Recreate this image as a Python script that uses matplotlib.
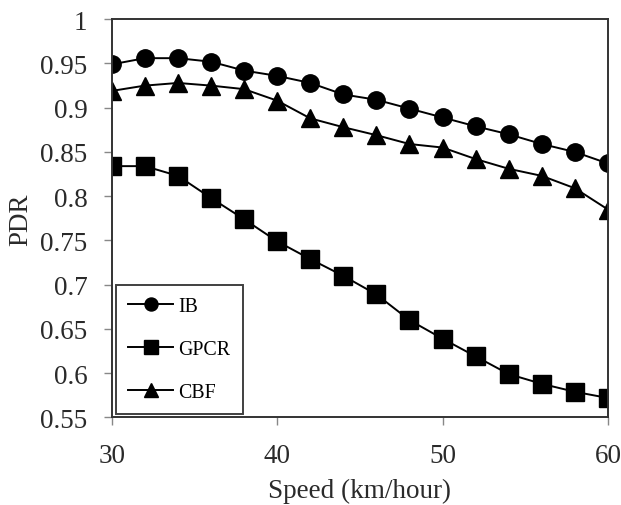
import matplotlib
matplotlib.use("Agg")
import matplotlib.pyplot as plt
from matplotlib.ticker import FixedLocator, FuncFormatter

speed = [30, 32, 34, 36, 38, 40, 42, 44, 46, 48, 50, 52, 54, 56, 58, 60]
ib = [0.949, 0.956, 0.956, 0.952, 0.942, 0.936, 0.928, 0.915, 0.909, 0.899,
      0.889, 0.879, 0.870, 0.859, 0.850, 0.837]
gpcr = [0.834, 0.834, 0.823, 0.798, 0.774, 0.749, 0.729, 0.710, 0.689, 0.660,
        0.639, 0.619, 0.599, 0.588, 0.579, 0.572]
cbf = [0.919, 0.925, 0.928, 0.925, 0.921, 0.908, 0.888, 0.878, 0.869, 0.859,
       0.855, 0.842, 0.831, 0.823, 0.809, 0.785]
x_ticks = [30, 40, 50, 60]
y_ticks = [0.55, 0.6, 0.65, 0.7, 0.75, 0.8, 0.85, 0.9, 0.95, 1.0]

plt.rcParams['font.family'] = ['Liberation Serif', 'DejaVu Serif']

fig = plt.figure(figsize=(6.21, 5.06), dpi=100)
ax = fig.add_axes([0.180, 0.173, 0.799, 0.787])

common = dict(color='black', linewidth=1.4, markersize=12.5)
ax.plot(speed, ib, marker='o', label='IB', **common)
ax.plot(speed, gpcr, marker='s', label='GPCR', **common)
ax.plot(speed, cbf, marker='^', label='CBF', **common)

ax.set_xlim(30, 60)
ax.set_ylim(0.55, 1.0)
ax.xaxis.set_major_locator(FixedLocator(x_ticks))
ax.yaxis.set_major_locator(FixedLocator(y_ticks))
ax.yaxis.set_major_formatter(FuncFormatter(lambda v, p: ('%.2f' % v).rstrip('0').rstrip('.')))

for s in ax.spines.values():
    s.set_color('#333333')
    s.set_linewidth(1.4)
ax.tick_params(axis='both', direction='out', length=5.5, width=1, color='#888888',
               labelsize=19.5, labelcolor='#2a2a2a')
ax.tick_params(axis='y', pad=12)
ax.tick_params(axis='x', pad=13)

ax.set_xlabel('Speed (km/hour)', fontsize=19.5, color='#2a2a2a', labelpad=7)
ax.set_ylabel('PDR', fontsize=19.5, color='#2a2a2a', labelpad=5)

leg = ax.legend(loc='lower left', bbox_to_anchor=(0.008, 0.008), fontsize=14.3,
                frameon=True, fancybox=False, edgecolor='#111111',
                handlelength=2.25, handletextpad=0.27, labelspacing=1.2,
                borderpad=0.63, markerscale=0.75, borderaxespad=0)
leg.get_frame().set_linewidth(1.4)

fig.savefig('out.png', dpi=100)
